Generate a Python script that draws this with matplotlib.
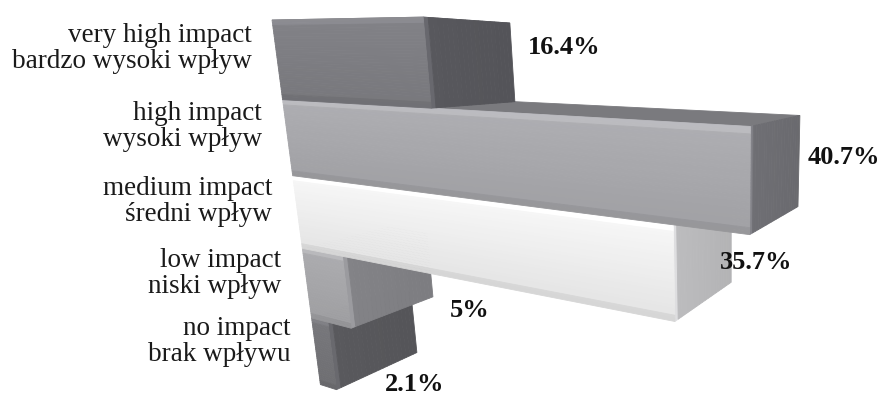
import numpy as np
import matplotlib
matplotlib.use('Agg')
import matplotlib.pyplot as plt
from matplotlib.colors import to_rgb

# data (top bar first)
labels_en = ['very high impact', 'high impact', 'medium impact', 'low impact', 'no impact']
labels_pl = ['bardzo wysoki wpływ', 'wysoki wpływ', 'średni wpływ', 'niski wpływ', 'brak wpływu']
shares = [16.4, 40.7, 35.7, 5.0, 2.1]
share_text = ['16.4%', '40.7%', '35.7%', '5%', '2.1%']

# colours of the faces of each bar
front_col = ['#7e7e83', '#a9a9ad', '#f0f0f0', '#a7a7aa', '#747478']
side_col = ['#58585d', '#6f6f74', '#bcbcbe', '#838387', '#59595d']
top_col = ['#8c8c90', '#7a7a7e', '#d2d2d2', '#9a9a9d', '#7a7a7e']

# nudges (px) for the value labels, Excel puts them a bit loosely
label_nudge = [(15, -15), (9, -4), (-11, 21), (20, 45), (-29, 62)]

W, H = 880, 398

# perspective camera: image of origin + vanishing points of the three axes
# value axis -> right, depth axis -> into the picture, stack axis -> down
origin_px = (272.0, 20.0)
vp_value, w_value = (-760.0, 40.0), -0.00779
vp_depth, w_depth = (1050.0, 60.0), 0.14
vp_stack, w_stack = (729.0, 3461.0), 0.0237

cam = np.array([
    [w_value * vp_value[0], w_depth * vp_depth[0], w_stack * vp_stack[0], origin_px[0]],
    [w_value * vp_value[1], w_depth * vp_depth[1], w_stack * vp_stack[1], origin_px[1]],
    [w_value, w_depth, w_stack, 1.0],
])


def project(x, y, z):
    x, y, z = np.broadcast_arrays(np.asarray(x, float), np.asarray(y, float), np.asarray(z, float))
    p = cam @ np.vstack([x.ravel(), y.ravel(), z.ravel(), np.ones(x.size)])
    return p[0] / p[2], p[1] / p[2]


def shade(col, f):
    return tuple(np.clip(np.array(to_rgb(col)) * f, 0, 1))


def face(ax, xs, ys, zs, col):
    px, py = project(xs, ys, zs)
    ax.fill(px, py, color=col, ec=col, lw=0.6, zorder=2)


def front_factor(t):
    # rounded look: light rim on top, a bit darker towards the bottom edge
    f = 1.03 - 0.08 * t
    if t < 0.06:
        f += 0.08
    if t > 0.94:
        f -= 0.06
    return f


fig = plt.figure(figsize=(W / 100, H / 100), dpi=100)
ax = fig.add_axes([0, 0, 1, 1])
ax.set_xlim(0, W)
ax.set_ylim(H, 0)
ax.axis('off')

n = len(shares)
nz = 30
# draw from the bottom bar up so the upper ones cover the lower ones
for i in reversed(range(n)):
    v = shares[i]
    # top face
    face(ax, [0, v, v, 0], [0, 0, 1, 1], [i, i, i, i], top_col[i])
    # end cap, lighter rim at the front edge
    ys = np.linspace(0, 1, 21)
    for k in range(20):
        f = 1.18 if k == 0 else 1.0 - 0.05 * k / 20
        face(ax, [v, v, v, v], [ys[k], ys[k + 1], ys[k + 1], ys[k]], [i, i, i + 1, i + 1],
             shade(side_col[i], f))
    # front face
    zs = np.linspace(i, i + 1, nz + 1)
    for k in range(nz):
        t = (k + 0.5) / nz
        face(ax, [0, v, v, 0], [0, 0, 0, 0], [zs[k], zs[k], zs[k + 1], zs[k + 1]],
             shade(front_col[i], front_factor(t)))

    # category label
    lx, ly = project(0, 0, i + 0.35)
    ax.text(lx[0] - 24, ly[0], labels_en[i] + '\n' + labels_pl[i], ha='right', va='center',
            fontsize=19.5, family='Liberation Serif', linespacing=1.05, color='#1a1a1a')

    # value label
    vx, vy = project(v, 1, i + 0.5)
    dx, dy = label_nudge[i]
    ax.text(vx[0] + dx, vy[0] + dy, share_text[i], ha='left', va='center',
            fontsize=19, family='Liberation Serif', fontweight='bold', color='#111111')

fig.savefig('out.png', dpi=100)
